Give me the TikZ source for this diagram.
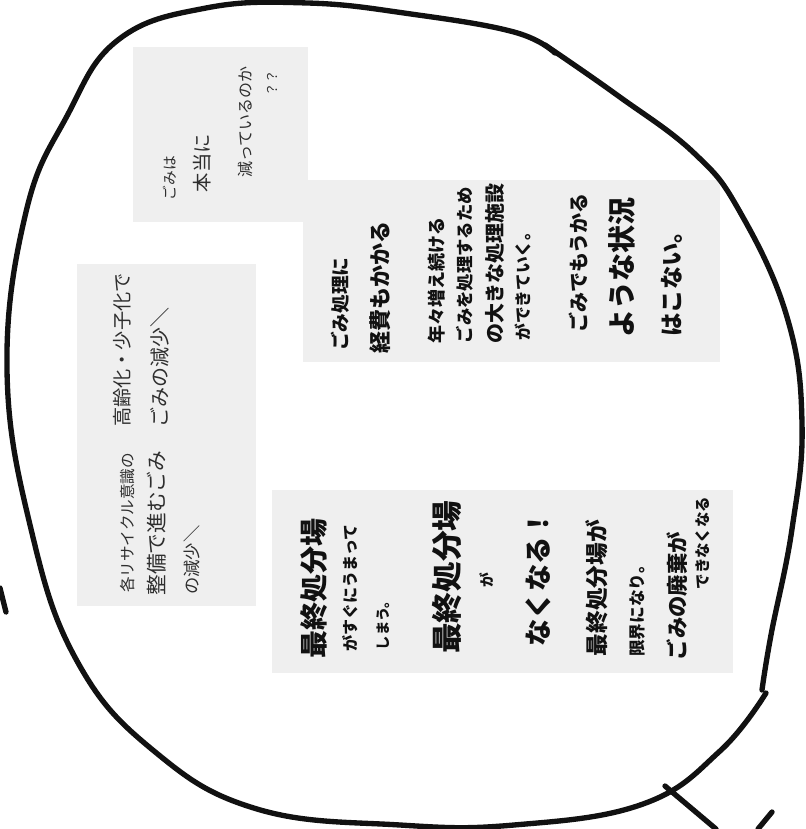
\documentclass[tikz,border=0pt]{standalone}
\usepackage{fontspec}
\newfontfamily\jpfont{Noto Sans CJK JP}
\usetikzlibrary{positioning}
\definecolor{notegray}{HTML}{EFEFEF}
\definecolor{ink}{HTML}{111111}
\definecolor{pencil}{HTML}{2E2E2E}

\begin{document}
\begin{tikzpicture}[
    x=0.75pt, y=-0.75pt,
    note/.style={fill=notegray},
    hand/.style={font=\jpfont\fontsize{#1pt}{#1pt}\selectfont, rotate=90, inner sep=0pt, text=pencil},
    pen/.style={font=\jpfont\bfseries\fontsize{#1pt}{#1pt}\selectfont, rotate=90, inner sep=0pt, text=ink},
    loop/.style={line width=4pt, line cap=round, line join=round, draw=ink}
]
\useasboundingbox (0,0) rectangle (806,829);

% sticky notes
\fill[note] (133,47) rectangle (308,222);
\fill[note] (303,180) rectangle (720,362);
\fill[note] (77,264) rectangle (256,606);
\fill[note] (272,490) rectangle (733,673);

% top note
\node[hand=11] (q1) at (170,178) {ごみは};
\node[hand=14.5] (q2) at (202,163) {本当に};
\node[hand=12] (q3) at (245,122) {減っているのか};
\node[hand=10] (q4) at (272,83) {？？};

% upper right note
\node[pen=14] (c1) at (340,304) {ごみ処理に};
\node[pen=16.5] (c2) at (380,287) {経費もかかる};
\node[pen=13.5] (c3) at (437,280) {年々増え続ける};
\node[pen=13] (c4) at (465,265) {ごみを処理するため};
\node[pen=15] (c5) at (495,263) {の大きな処理施設};
\node[pen=12.5] (c6) at (523,282) {ができていく。};
\node[pen=15] (c7) at (578,263) {ごみでもうかる};
\node[pen=21] (c8) at (622,267) {ような状況};
\node[pen=17.5] (c9) at (672,278) {はこない。};

% left note
\node[hand=11.7] (r1) at (128,523) {各リサイクル意識の};
\node[hand=15.5] (r2) at (157,523) {整備で進むごみ};
\node[hand=13] (r3) at (192,560) {の減少＼};
\node[hand=14.4] (r4) at (122,350) {高齢化・少子化で};
\node[hand=15] (r5) at (160,367) {ごみの減少＼};

% bottom note
\node[pen=21] (d1) at (314,588) {最終処分場};
\node[pen=12] (d2) at (350,588) {がすぐにうまって};
\node[pen=10.7] (d3) at (383,622) {しまう。};
\node[pen=23] (d4) at (447,577) {最終処分場};
\node[pen=11] (d5) at (487,580) {が};
\node[pen=20.5] (d6) at (538,578) {なくなる！};
\node[pen=17] (d7) at (597,588) {最終処分場が};
\node[pen=12.5] (d8) at (637,607) {限界になり。};
\node[pen=16] (d9) at (677,596) {ごみの廃棄が};
\node[pen=11.6] (d10) at (703,543) {できなくなる};

% the loop round everything
\draw[loop] plot[smooth, tension=0.7] coordinates {(555,53) (514,32) (411,14) (308,3) (206,8) (118,40) (67,116) (26,212) (7,370) (31,529) (77,661) (154,751) (257,809) (400,825) (514,825) (643,804) (720,751) (766,693)};
\draw[loop] plot[smooth, tension=0.7] coordinates {(545,45) (617,95) (694,153) (740,212) (787,317) (802,423) (792,529) (771,635) (762,690)};

% bits of other strokes at the edge
\draw[loop] (665,786) -- (716,829);
\draw[loop] (758,829) -- (772,812);
\draw[loop] (0,588) -- (6,612);
\end{tikzpicture}
\end{document}
